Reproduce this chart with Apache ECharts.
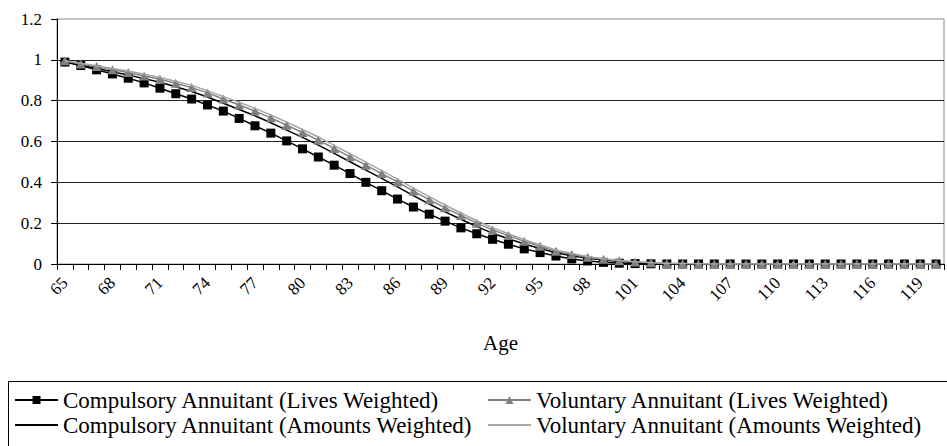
<!DOCTYPE html>
<html>
<head>
<meta charset="utf-8">
<script src="https://cdn.jsdelivr.net/npm/echarts@6/dist/echarts.min.js"></script>
<style>
html,body{margin:0;padding:0;background:#fff;}
#chart{width:947px;height:446px;}
</style>
</head>
<body>
<div id="chart"></div>
<script>
// Ages 65..120
const ages = [];
for (let a = 65; a <= 120; a++) ages.push(String(a));

const compulsoryLives = [
  0.989, 0.972, 0.951, 0.931, 0.910, 0.887, 0.861, 0.834, 0.808, 0.779,
  0.749, 0.713, 0.677, 0.641, 0.603, 0.564, 0.524, 0.484, 0.443, 0.400,
  0.359, 0.318, 0.279, 0.244, 0.210, 0.177, 0.148, 0.121, 0.097, 0.074,
  0.056, 0.039, 0.025, 0.015, 0.008, 0.004, 0.002, 0.001, 0, 0,
  0, 0, 0, 0, 0, 0, 0, 0, 0, 0,
  0, 0, 0, 0, 0, 0
];

const compulsoryAmounts = [
  0.990, 0.974, 0.959, 0.941, 0.926, 0.908, 0.890, 0.868, 0.845, 0.818,
  0.787, 0.757, 0.726, 0.692, 0.656, 0.620, 0.582, 0.542, 0.501, 0.460,
  0.419, 0.378, 0.335, 0.294, 0.255, 0.219, 0.183, 0.151, 0.124, 0.098,
  0.076, 0.055, 0.040, 0.028, 0.019, 0.012, 0.007, 0.004, 0.002, 0.001,
  0, 0, 0, 0, 0, 0, 0, 0, 0, 0,
  0, 0, 0, 0, 0, 0
];

const voluntaryLives = [
  0.995, 0.980, 0.967, 0.951, 0.938, 0.921, 0.905, 0.885, 0.864, 0.838,
  0.808, 0.779, 0.749, 0.716, 0.680, 0.644, 0.607, 0.566, 0.525, 0.484,
  0.443, 0.402, 0.357, 0.315, 0.275, 0.238, 0.200, 0.167, 0.139, 0.111,
  0.087, 0.062, 0.046, 0.033, 0.023, 0.016, 0.010, 0.006, 0.003, 0.002,
  0.001, 0, 0, 0, 0, 0, 0, 0, 0, 0,
  0, 0, 0, 0, 0, 0
];

const voluntaryAmounts = [
  0.996, 0.983, 0.971, 0.957, 0.945, 0.929, 0.914, 0.895, 0.875, 0.849,
  0.820, 0.792, 0.762, 0.730, 0.695, 0.659, 0.622, 0.581, 0.540, 0.499,
  0.457, 0.416, 0.372, 0.330, 0.289, 0.250, 0.212, 0.178, 0.148, 0.119,
  0.094, 0.069, 0.052, 0.037, 0.026, 0.018, 0.011, 0.007, 0.004, 0.002,
  0.001, 0, 0, 0, 0, 0, 0, 0, 0, 0,
  0, 0, 0, 0, 0, 0
];

const names = [
  'Compulsory Annuitant (Lives Weighted)',
  'Compulsory Annuitant (Amounts Weighted)',
  'Voluntary Annuitant (Lives Weighted)',
  'Voluntary Annuitant (Amounts Weighted)'
];

const FONT = '"Liberation Serif", "Times New Roman", serif';

const chart = echarts.init(document.getElementById('chart'), null, {renderer: 'svg'});

const legendText = {fontFamily: FONT, fontSize: 23, color: '#000', lineHeight: 25};

chart.setOption({
  animation: false,
  backgroundColor: '#fff',
  grid: {
    left: 57, right: 3, top: 19, bottom: 182,
    show: true, borderColor: '#8c8c8c', borderWidth: 1
  },
  graphic: [{
    type: 'rect',
    shape: {x: 8.5, y: 381.5, width: 1000, height: 200},
    style: {fill: 'none', stroke: '#000', lineWidth: 1},
    silent: true
  }],
  legend: [{
    data: [names[0], names[1]],
    orient: 'vertical',
    left: 14, top: 387.5,
    padding: 0, itemGap: 0,
    itemWidth: 43, itemHeight: 10,
    selectedMode: false,
    textStyle: legendText
  }, {
    data: [names[2], names[3]],
    orient: 'vertical',
    left: 487, top: 387.5,
    padding: 0, itemGap: 0,
    itemWidth: 43, itemHeight: 10,
    selectedMode: false,
    textStyle: legendText
  }],
  xAxis: {
    type: 'category',
    data: ages,
    boundaryGap: true,
    name: 'Age',
    nameLocation: 'middle',
    nameGap: 68,
    nameTextStyle: {fontFamily: FONT, fontSize: 21, color: '#000'},
    axisLine: {lineStyle: {color: '#000', width: 1}},
    axisTick: {show: true, interval: 0, length: 6, lineStyle: {color: '#000'}},
    axisLabel: {
      interval: 2,
      rotate: 45,
      margin: 16,
      fontFamily: FONT, fontSize: 17, color: '#000'
    },
    splitLine: {show: false}
  },
  yAxis: {
    type: 'value',
    min: 0, max: 1.2, interval: 0.2,
    axisLine: {show: true, lineStyle: {color: '#000', width: 1}},
    axisTick: {show: true, length: 6, lineStyle: {color: '#000'}},
    axisLabel: {
      margin: 15,
      fontFamily: FONT, fontSize: 17, color: '#000',
      formatter: function (v) { return String(Math.round(v * 10) / 10); }
    },
    splitLine: {show: true, showMaxLine: false, lineStyle: {color: '#222', width: 1}}
  },
  series: [{
    name: names[0],
    type: 'line',
    data: compulsoryLives,
    symbol: 'rect',
    symbolSize: 9,
    showAllSymbol: true,
    lineStyle: {color: '#000', width: 1.5},
    itemStyle: {color: '#000', borderWidth: 0},
    z: 2
  }, {
    name: names[1],
    type: 'line',
    data: compulsoryAmounts,
    showSymbol: false,
    lineStyle: {color: '#000', width: 1.5},
    itemStyle: {color: '#000', opacity: 0},
    z: 3
  }, {
    name: names[2],
    type: 'line',
    data: voluntaryLives,
    symbol: 'triangle',
    symbolSize: [10, 9],
    showAllSymbol: true,
    lineStyle: {color: '#808080', width: 1.5},
    itemStyle: {color: '#808080', borderWidth: 0},
    z: 4
  }, {
    name: names[3],
    type: 'line',
    data: voluntaryAmounts,
    showSymbol: false,
    lineStyle: {color: '#a6a6a6', width: 1.5},
    itemStyle: {color: '#a6a6a6', opacity: 0},
    z: 5
  }]
});
</script>
</body>
</html>
